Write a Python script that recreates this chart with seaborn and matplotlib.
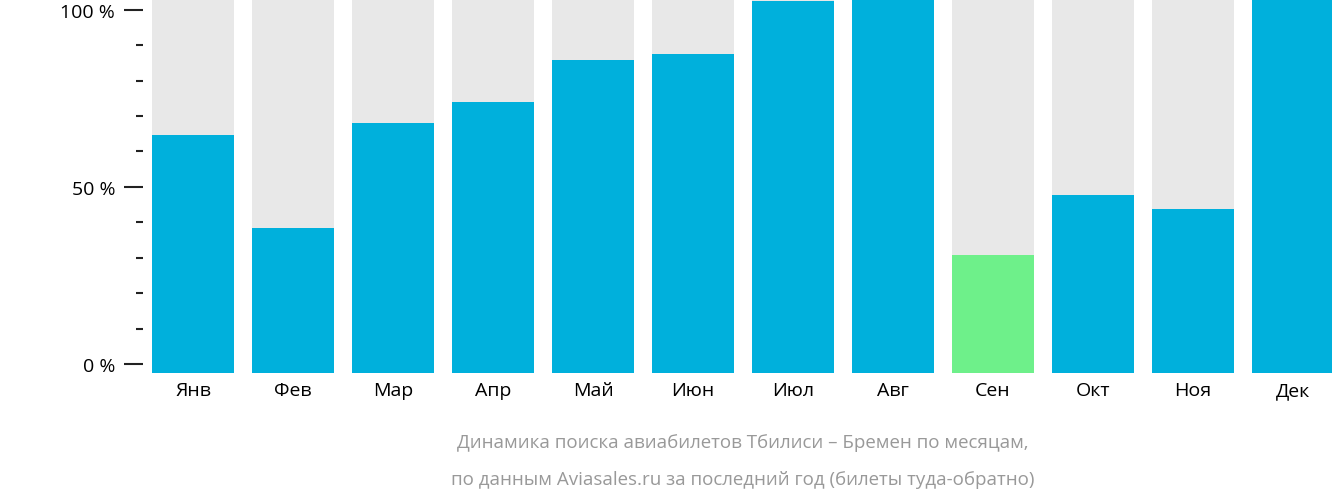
import matplotlib
matplotlib.use("Agg")
import matplotlib.pyplot as plt
import seaborn as sns
import pandas as pd

months = ["Янв","Фев","Мар","Апр","Май","Июн","Июл","Авг","Сен","Окт","Ноя","Дек"]
values = [64.7, 38.4, 68.0, 74.0, 85.9, 87.6, 102.5, 104, 30.8, 47.7, 43.8, 104]
highlight = "Сен"
ytick_vals = [0, 50, 100]
ytick_labels = ["0 %", "50 %", "100 %"]

plt.rcParams["font.family"] = "Open Sans"
fig = plt.figure(figsize=(13.32, 5.02), dpi=100)
ax = fig.add_axes([143/1332, 128/502, 1189/1332, 374/502])

base = -2.5
df = pd.DataFrame({"m": months, "v": [v - base for v in values], "bg": [110 - base]*len(months)})
palette = ["#6ef08a" if m == highlight else "#00b0dc" for m in months]
sns.barplot(data=df, x="m", y="bg", color="#e8e8e8", width=0.82, ax=ax, bottom=base, saturation=1)
sns.barplot(data=df, x="m", y="v", hue="m", palette=palette, width=0.82, ax=ax, bottom=base, saturation=1, legend=False)

ax.set_xlim(-0.5, 11.39)
ax.set_ylim(base, 103)
ax.set_yticks(ytick_vals)
ax.set_yticklabels(ytick_labels)
ax.set_yticks(range(10, 100, 10), minor=True)
ax.tick_params(axis="y", which="major", length=14, width=1.5, labelsize=14, color="#222", pad=6)
ax.tick_params(axis="y", which="minor", length=5, width=1.5, color="#222")
ax.tick_params(axis="x", length=0, labelsize=14, pad=6)
ax.set_xlabel(""); ax.set_ylabel("")
for s in ax.spines.values():
    s.set_visible(False)

fig.text(743/1332, 1-443/502, "Динамика поиска авиабилетов Тбилиси – Бремен по месяцам,", ha="center", va="center", color="#999999", fontsize=13.5)
fig.text(743/1332, 1-480/502, "по данным Aviasales.ru за последний год (билеты туда-обратно)", ha="center", va="center", color="#999999", fontsize=13.5)

fig.savefig("out.png", dpi=100)
